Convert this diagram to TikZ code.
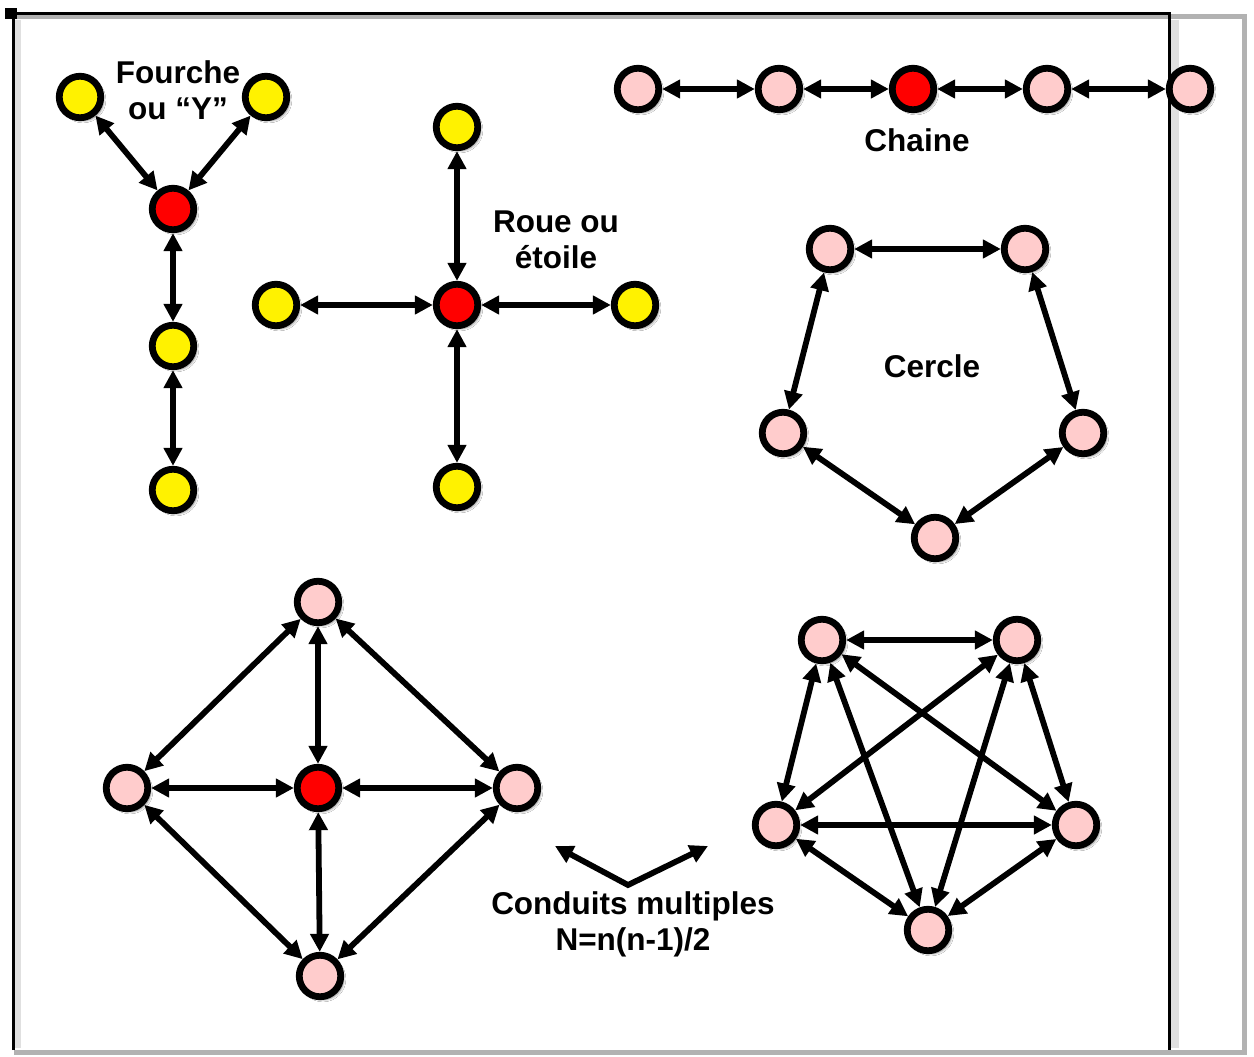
\documentclass[tikz,border=0pt]{standalone}
\usepackage{fontspec}
\setmainfont{Liberation Sans}
\usetikzlibrary{arrows.meta,shadows.blur}
\begin{document}
\begin{tikzpicture}[x=1pt,y=-1pt,
  nd/.style={circle,draw=black,line width=6.8pt,minimum size=41.5pt,inner sep=0pt,
    blur shadow={shadow xshift=3pt,shadow yshift=-3pt,shadow blur steps=6,shadow opacity=45}},
  yel/.style={nd,fill=yellow},
  rd/.style={nd,fill=red},
  pk/.style={nd,fill=pink1},
  conn/.style={line width=5.8pt,{Triangle[length=18pt,width=18pt]}-{Triangle[length=18pt,width=18pt]}},
  lbl/.style={font=\bfseries\fontsize{31.5}{36}\selectfont,align=center,inner sep=0pt}]
\definecolor{pink1}{HTML}{FFCCCC}
\useasboundingbox (0,0) rectangle (1254,1057);
\fill[white] (0,0) rectangle (1254,1057);
% frame
\draw[black!12,line width=8pt] (1175,20) -- (1175,1048);
\draw[black!12,line width=6pt] (18,20) -- (18,1048);
\draw[black!30,line width=5pt] (14,17) -- (1244,17) -- (1244,1052) -- (14,1052);
\draw[black,line width=3pt] (13,1050) -- (13,14) -- (1169,14) -- (1169,1050);
\fill[black] (5,8) rectangle (17,19);
% Fourche
\node[yel] (f1) at (80,97) {};
\node[yel] (f2) at (266,97) {};
\node[rd] (f0) at (173,209) {};
\node[yel] (f3) at (173,346) {};
\node[yel] (f4) at (173,490) {};
\node[lbl] (lf) at (178,90) {Fourche\\ou “Y”};
% Roue
\node[rd] (s0) at (457,305) {};
\node[yel] (s1) at (457,127) {};
\node[yel] (s2) at (276,305) {};
\node[yel] (s3) at (635,305) {};
\node[yel] (s4) at (457,487) {};
\node[lbl] (ls) at (556,240) {Roue ou\\étoile};
% Chaine
\node[pk] (c1) at (638,89) {};
\node[pk] (c2) at (779,89) {};
\node[rd] (c3) at (913,89) {};
\node[pk] (c4) at (1047,89) {};
\node[pk] (c5) at (1190,89) {};
\node[lbl] (lc) at (917,140) {Chaine};
% Cercle
\node[pk] (r1) at (830,249) {};
\node[pk] (r2) at (1025,249) {};
\node[pk] (r3) at (783,433) {};
\node[pk] (r4) at (1083,433) {};
\node[pk] (r5) at (935,538) {};
\node[lbl] (lr) at (932,366) {Cercle};
% Diamond
\node[pk] (d1) at (318,602) {};
\node[pk] (d2) at (127,788) {};
\node[rd] (d0) at (318,788) {};
\node[pk] (d3) at (517,788) {};
\node[pk] (d4) at (320,976) {};
% K5
\node[pk] (k1) at (822,640) {};
\node[pk] (k2) at (1017,640) {};
\node[pk] (k3) at (776,825) {};
\node[pk] (k4) at (1076,825) {};
\node[pk] (k5) at (928,930) {};
% Conduits
\coordinate (v) at (628,885);
\coordinate (vl) at (555,846);
\coordinate (vr) at (708,846);
\node[lbl] (lm) at (633,924) {Conduits multiples\\N=n(n-1)/2};
% edges
\draw[conn] (f1) -- (f0);
\draw[conn] (f2) -- (f0);
\draw[conn] (f0) -- (f3);
\draw[conn] (f3) -- (f4);
\draw[conn] (s0) -- (s1);
\draw[conn] (s0) -- (s2);
\draw[conn] (s0) -- (s3);
\draw[conn] (s0) -- (s4);
\draw[conn] (c1) -- (c2);
\draw[conn] (c2) -- (c3);
\draw[conn] (c3) -- (c4);
\draw[conn] (c4) -- (c5);
\draw[conn] (r1) -- (r2);
\draw[conn] (r1) -- (r3);
\draw[conn] (r2) -- (r4);
\draw[conn] (r3) -- (r5);
\draw[conn] (r4) -- (r5);
\draw[conn] (d1) -- (d2);
\draw[conn] (d1) -- (d0);
\draw[conn] (d1) -- (d3);
\draw[conn] (d2) -- (d0);
\draw[conn] (d0) -- (d3);
\draw[conn] (d0) -- (d4);
\draw[conn] (d2) -- (d4);
\draw[conn] (d3) -- (d4);
\draw[conn] (k1) -- (k2);
\draw[conn] (k1) -- (k3);
\draw[conn] (k1) -- (k4);
\draw[conn] (k1) -- (k5);
\draw[conn] (k2) -- (k3);
\draw[conn] (k2) -- (k4);
\draw[conn] (k2) -- (k5);
\draw[conn] (k3) -- (k4);
\draw[conn] (k3) -- (k5);
\draw[conn] (k4) -- (k5);
\draw[conn] (vl) -- (v) -- (vr);
\end{tikzpicture}
\end{document}
